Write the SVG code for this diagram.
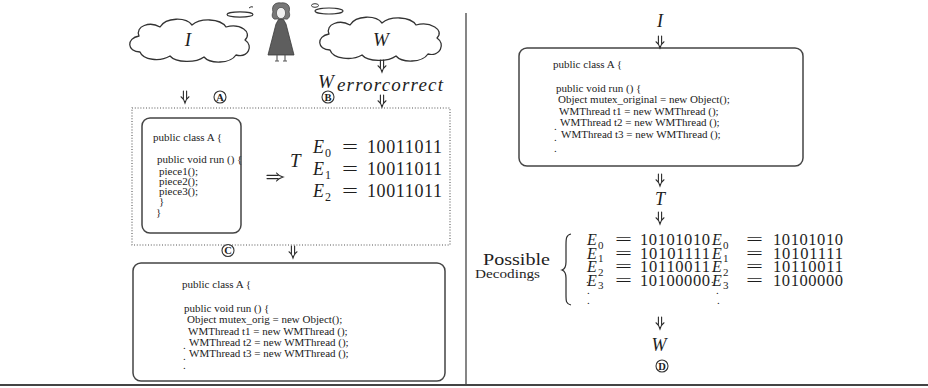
<svg xmlns="http://www.w3.org/2000/svg" xmlns:xlink="http://www.w3.org/1999/xlink" width="928" height="388" viewBox="0 0 928 388">
  <style>
    .code { font-family: "Liberation Serif", "Times New Roman", serif; font-size: 11px; fill: #222; }
    .math { font-family: "Liberation Serif", "Times New Roman", serif; font-style: italic; fill: #1e1e1e; }
    .rm { font-family: "Liberation Serif", "Times New Roman", serif; fill: #1e1e1e; }
    .box { fill: #fff; stroke: #444; stroke-width: 1.5; }
    .cloud { fill: #fff; stroke: #333; stroke-width: 1.3; stroke-linejoin: round; }
    .arrow { fill: none; stroke: #2a2a2a; stroke-width: 1.1; stroke-linecap: round; }
    .tag circle { fill: none; stroke: #333; stroke-width: 1.1; }
    .tag text { font-family: "Liberation Serif", "Times New Roman", serif; font-size: 10.5px; font-weight: bold; fill: #222; text-anchor: middle; }
    .rule { stroke: #444; fill: none; }
  </style>
  <defs>
    <!-- double-shafted down arrow -->
    <symbol id="dn" viewBox="0 0 10 12" overflow="visible">
      <path class="arrow" d="M3.4,0 V7.5 M6.6,0 V7.5 M1,5.8 Q3.6,7.6 5,12 Q6.4,7.6 9,5.8"/>
    </symbol>
    <!-- double-shafted right arrow -->
    <symbol id="rt" viewBox="0 0 16 10" overflow="visible">
      <path class="arrow" d="M0,3.4 H11 M0,6.6 H11 M9.5,1 Q11.5,3.6 16,5 Q11.5,6.4 9.5,9"/>
    </symbol>
  </defs>

  <rect width="928" height="388" fill="#fff"/>

  <!-- page rules -->
  <line class="rule" x1="466" y1="13" x2="466" y2="385" stroke-width="1.3"/>
  <line class="rule" x1="0" y1="385" x2="928" y2="385" stroke-width="2"/>

  <!-- thought cloud holding I -->
  <g id="cloud-i">
    <path class="cloud" d="M140,52 C127,52 126,38 139,36 C135,26 150,21 160,27 C166,17 186,17 192,25 C200,18 220,18 226,27 C240,23 253,32 245,40 C254,46 248,58 236,55 C230,64 210,64 204,57 C196,63 176,63 170,56 C160,62 143,60 140,52 Z"/>
    <ellipse cx="240" cy="14.5" rx="13" ry="2.6" fill="none" stroke="#333" stroke-width="1.1"/>
    <path d="M249,8 Q251,6 253,7" fill="none" stroke="#333" stroke-width="1"/>
    <text class="math" x="188" y="46" font-size="19" text-anchor="middle">I</text>
  </g>

  <!-- thought cloud holding W -->
  <g id="cloud-w">
    <path class="cloud" d="M330,50 C317,50 316,36 329,34 C325,24 340,19 350,25 C356,15 376,15 382,23 C390,16 410,16 416,25 C430,21 445,30 437,38 C446,44 440,57 428,54 C422,63 402,63 396,56 C388,62 368,62 362,55 C352,61 333,59 330,50 Z"/>
    <ellipse cx="329" cy="11" rx="14" ry="3" fill="none" stroke="#333" stroke-width="1.1"/>
    <ellipse cx="315" cy="5.5" rx="3.5" ry="1.8" fill="none" stroke="#333" stroke-width="1"/>
    <text class="math" x="381" y="46" font-size="19" text-anchor="middle">W</text>
  </g>

  <!-- the thinker -->
  <g id="figure">
    <path d="M273,12 C271,5 276,2 281,3 C287,2 291,6 289,12 C291,16 288,20 286,19 L276,19 C273,20 271,16 273,12 Z" fill="#777" stroke="#444" stroke-width="0.8"/>
    <ellipse cx="281" cy="13" rx="4.6" ry="5.6" fill="#eee" stroke="#555" stroke-width="0.8"/>
    <path d="M278.5,19.5 L283.5,19.5 L286,24 L294,55 L268,55 L276,24 Z" fill="#5e5e5e" stroke="#3a3a3a" stroke-width="0.8"/>
    <path d="M277,55 V60.5 M285,55 V60.5 M275,61 H279 M283,61 H287" stroke="#555" stroke-width="1.1" fill="none"/>
  </g>

  <!-- watermark after error correction -->
  <g id="w-errorcorrect">
    <text class="math" x="318" y="88" font-size="19">W</text>
    <text class="math" x="337" y="91" font-size="19" textLength="106" lengthAdjust="spacing">errorcorrect</text>
  </g>

  <!-- step labels -->
  <g id="tag-a" class="tag"><circle cx="220" cy="97" r="6"/><text x="220" y="100.7">A</text></g>
  <g id="tag-b" class="tag"><circle cx="328" cy="97" r="6"/><text x="328" y="100.7">B</text></g>
  <g id="tag-c" class="tag"><circle cx="228" cy="250.5" r="6"/><text x="228" y="254.2">C</text></g>
  <g id="tag-d" class="tag"><circle cx="662" cy="366" r="6"/><text x="662" y="369.7">D</text></g>

  <!-- embedding stage: program split into pieces plus encoded watermark -->
  <g id="embed-stage">
    <rect x="132" y="108" width="318" height="137" fill="none" stroke="#555" stroke-width="1.1" stroke-dasharray="1 1.8"/>
  </g>

  <g id="pieces-box">
    <rect class="box" x="142" y="118" width="99" height="115" rx="8"/>
    <text class="code" x="153" y="141">public class A {</text>
    <text class="code" x="157" y="163">public void run () {</text>
    <text class="code" x="159" y="175">piece1();</text>
    <text class="code" x="159" y="185">piece2();</text>
    <text class="code" x="159" y="195">piece3();</text>
    <text class="code" x="159" y="205">}</text>
    <text class="code" x="156" y="216">}</text>
  </g>

  <g id="encodings-left">
    <text class="math" x="290" y="167" font-size="19">T</text>
    <text class="math" x="313" y="153" font-size="18">E</text>
    <text class="rm" x="325" y="157" font-size="12">0</text>
    <text class="rm" x="342" y="153" font-size="19" textLength="16" lengthAdjust="spacingAndGlyphs">=</text>
    <text class="rm" x="367" y="153" font-size="18" textLength="75">10011011</text>
    <text class="math" x="313" y="175" font-size="18">E</text>
    <text class="rm" x="325" y="179" font-size="12">1</text>
    <text class="rm" x="342" y="175" font-size="19" textLength="16" lengthAdjust="spacingAndGlyphs">=</text>
    <text class="rm" x="367" y="175" font-size="18" textLength="75">10011011</text>
    <text class="math" x="313" y="197" font-size="18">E</text>
    <text class="rm" x="325" y="201" font-size="12">2</text>
    <text class="rm" x="342" y="197" font-size="19" textLength="16" lengthAdjust="spacingAndGlyphs">=</text>
    <text class="rm" x="367" y="197" font-size="18" textLength="75">10011011</text>
  </g>

  <!-- watermarked program -->
  <g id="marked-box">
    <rect class="box" x="133" y="263" width="312" height="118" rx="8"/>
    <text class="code" x="182" y="288">public class A {</text>
    <text class="code" x="184" y="312">public void run () {</text>
    <text class="code" x="187" y="323">Object mutex_orig = new Object();</text>
    <text class="code" x="188" y="335">WMThread t1 = new WMThread ();</text>
    <text class="code" x="189" y="346">WMThread t2 = new WMThread ();</text>
    <text class="code" x="189" y="357">WMThread t3 = new WMThread ();</text>
    <text class="code" x="183" y="349">.</text>
    <text class="code" x="183" y="360">.</text>
    <text class="code" x="183" y="369">.</text>
  </g>

  <!-- recognition side -->
  <g id="label-i">
    <text class="math" x="660" y="27" font-size="18" text-anchor="middle">I</text>
  </g>

  <g id="input-box">
    <rect class="box" x="519" y="48" width="284" height="118" rx="8"/>
    <text class="code" x="553" y="68">public class A {</text>
    <text class="code" x="556" y="92">public void run () {</text>
    <text class="code" x="558" y="103">Object mutex_original = new Object();</text>
    <text class="code" x="559" y="114.5">WMThread t1 = new WMThread ();</text>
    <text class="code" x="560" y="126">WMThread t2 = new WMThread ();</text>
    <text class="code" x="561" y="137.5">WMThread t3 = new WMThread ();</text>
    <text class="code" x="554" y="130">.</text>
    <text class="code" x="554" y="141">.</text>
    <text class="code" x="554" y="152">.</text>
  </g>

  <g id="label-t">
    <text class="math" x="660" y="205" font-size="18" text-anchor="middle">T</text>
  </g>

  <g id="decodings">
    <text class="rm" x="483" y="265" font-size="16" textLength="67" lengthAdjust="spacingAndGlyphs">Possible</text>
    <text class="rm" x="475" y="278" font-size="13" textLength="65" lengthAdjust="spacingAndGlyphs">Decodings</text>
    <path d="M571,234 C566,235 566,239 566,245 L566,262 C566,267 565,269 562,270 C565,271 566,273 566,278 L566,295 C566,301 566,304 571,305" fill="none" stroke="#2a2a2a" stroke-width="1.2"/>

    <!-- first column -->
    <text class="math" x="587" y="245" font-size="16">E</text>
    <text class="rm" x="598" y="248.5" font-size="11">0</text>
    <text class="rm" x="615" y="245" font-size="17" textLength="17" lengthAdjust="spacingAndGlyphs">=</text>
    <text class="rm" x="640" y="245" font-size="16.5" textLength="70">10101010</text>
    <text class="math" x="587" y="258.5" font-size="16">E</text>
    <text class="rm" x="598" y="262" font-size="11">1</text>
    <text class="rm" x="615" y="258.5" font-size="17" textLength="17" lengthAdjust="spacingAndGlyphs">=</text>
    <text class="rm" x="640" y="258.5" font-size="16.5" textLength="70">10101111</text>
    <text class="math" x="587" y="272" font-size="16">E</text>
    <text class="rm" x="598" y="275.5" font-size="11">2</text>
    <text class="rm" x="615" y="272" font-size="17" textLength="17" lengthAdjust="spacingAndGlyphs">=</text>
    <text class="rm" x="640" y="272" font-size="16.5" textLength="70">10110011</text>
    <text class="math" x="587" y="285.5" font-size="16">E</text>
    <text class="rm" x="598" y="289" font-size="11">3</text>
    <text class="rm" x="615" y="285.5" font-size="17" textLength="17" lengthAdjust="spacingAndGlyphs">=</text>
    <text class="rm" x="640" y="285.5" font-size="16.5" textLength="70">10100000</text>
    <text class="rm" x="586" y="283" font-size="11">.</text>
    <text class="rm" x="587" y="294" font-size="11">.</text>
    <text class="rm" x="587" y="304" font-size="11">.</text>

    <!-- second column -->
    <text class="math" x="712" y="245" font-size="16">E</text>
    <text class="rm" x="723" y="248.5" font-size="11">0</text>
    <text class="rm" x="746" y="245" font-size="17" textLength="17" lengthAdjust="spacingAndGlyphs">=</text>
    <text class="rm" x="773" y="245" font-size="16.5" textLength="70">10101010</text>
    <text class="math" x="712" y="258.5" font-size="16">E</text>
    <text class="rm" x="723" y="262" font-size="11">1</text>
    <text class="rm" x="746" y="258.5" font-size="17" textLength="17" lengthAdjust="spacingAndGlyphs">=</text>
    <text class="rm" x="773" y="258.5" font-size="16.5" textLength="70">10101111</text>
    <text class="math" x="712" y="272" font-size="16">E</text>
    <text class="rm" x="723" y="275.5" font-size="11">2</text>
    <text class="rm" x="746" y="272" font-size="17" textLength="17" lengthAdjust="spacingAndGlyphs">=</text>
    <text class="rm" x="773" y="272" font-size="16.5" textLength="70">10110011</text>
    <text class="math" x="712" y="285.5" font-size="16">E</text>
    <text class="rm" x="723" y="289" font-size="11">3</text>
    <text class="rm" x="746" y="285.5" font-size="17" textLength="17" lengthAdjust="spacingAndGlyphs">=</text>
    <text class="rm" x="773" y="285.5" font-size="16.5" textLength="70">10100000</text>
    <text class="rm" x="711" y="283" font-size="11">.</text>
    <text class="rm" x="716" y="294" font-size="11">.</text>
    <text class="rm" x="717" y="304" font-size="11">.</text>
  </g>

  <g id="label-w">
    <text class="math" x="659" y="351" font-size="18" text-anchor="middle">W</text>
  </g>

  <!-- connectors -->
  <g id="connectors">
    <use xlink:href="#dn" x="377" y="60" width="10" height="12"/>
    <use xlink:href="#dn" x="180" y="91" width="10" height="12"/>
    <use xlink:href="#dn" x="377" y="95" width="10" height="12"/>
    <use xlink:href="#rt" x="267" y="172" width="16" height="10"/>
    <use xlink:href="#dn" x="288" y="246" width="10" height="12"/>
    <use xlink:href="#dn" x="655" y="36" width="10" height="12"/>
    <use xlink:href="#dn" x="655" y="174" width="10" height="12"/>
    <use xlink:href="#dn" x="655" y="212" width="10" height="12"/>
    <use xlink:href="#dn" x="655" y="317" width="10" height="12"/>
  </g>
</svg>
